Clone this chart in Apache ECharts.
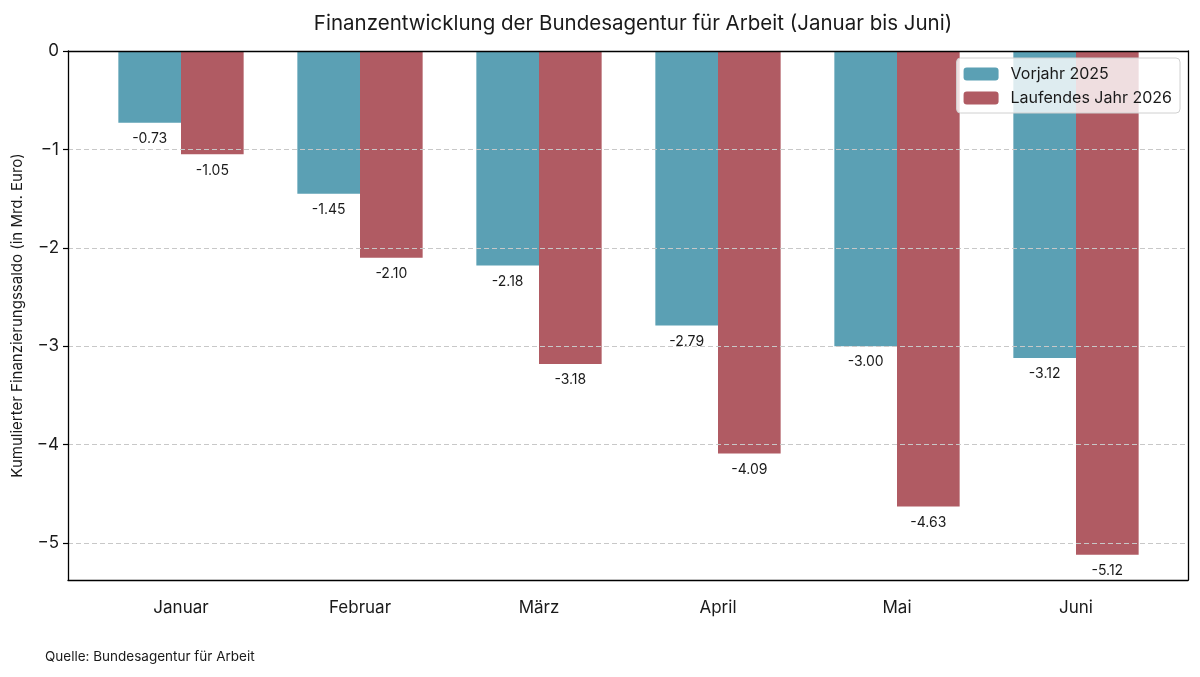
<!DOCTYPE html>
<html>
<head>
<meta charset="utf-8">
<script src="https://cdn.jsdelivr.net/npm/echarts@6/dist/echarts.min.js"></script>
<style>
  html, body { margin: 0; padding: 0; background: #fff; }
</style>
</head>
<body>
<div id="main" style="width:1200px;height:677px;"></div>
<script>
// Daten
var monate = ['Januar', 'Februar', 'März', 'April', 'Mai', 'Juni'];
var vorjahr2025 = [-0.73, -1.45, -2.18, -2.79, -3.00, -3.12];
var laufend2026 = [-1.05, -2.10, -3.18, -4.09, -4.63, -5.12];
var yMin = -5.376, yMax = 0;

var font = 'Inter';
var chart = echarts.init(document.getElementById('main'));

function minus(v) {
  return v < 0 ? '\u2212' + Math.abs(v) : String(v);
}

var frameLine = { show: true, onZero: false, lineStyle: { color: '#000', width: 1.3 } };

chart.setOption({
  textStyle: { fontFamily: font },
  title: {
    text: 'Finanzentwicklung der Bundesagentur für Arbeit (Januar bis Juni)',
    left: 628, textAlign: 'center', top: 8,
    textStyle: { fontSize: 20.5, fontWeight: 'normal', color: '#1a1a1a', fontFamily: font }
  },
  legend: {
    orient: 'vertical', right: 20, top: 58,
    itemWidth: 35, itemHeight: 13, itemGap: 8,
    padding: [8, 8, 7, 7],
    backgroundColor: 'rgba(255,255,255,0.8)',
    borderColor: '#d0d0d0', borderWidth: 1, borderRadius: 4,
    textStyle: { fontSize: 16, color: '#1a1a1a', fontFamily: font, padding: [0, 0, 0, 7] },
    data: ['Vorjahr 2025', 'Laufendes Jahr 2026']
  },
  grid: [
    { left: 68, right: 12, top: 51, bottom: 97 },
    { left: 91.5, right: 34.5, top: 51, bottom: 97 }
  ],
  xAxis: [
    { gridIndex: 0, type: 'value', position: 'bottom', min: 0, max: 1, z: 10,
      axisLine: frameLine, axisTick: { show: false }, axisLabel: { show: false }, splitLine: { show: false } },
    { gridIndex: 0, type: 'value', position: 'top', min: 0, max: 1, z: 10,
      axisLine: frameLine, axisTick: { show: false }, axisLabel: { show: false }, splitLine: { show: false } },
    { gridIndex: 1, type: 'category', data: monate, position: 'bottom',
      axisLine: { show: false },
      axisTick: { show: true, alignWithLabel: true, length: 5, lineStyle: { color: '#000', width: 1.2 } },
      axisLabel: { fontSize: 17, color: '#1a1a1a', margin: 19, fontFamily: font } }
  ],
  yAxis: [
    { gridIndex: 0, type: 'value', min: yMin, max: yMax, splitNumber: 5, z: 10,
      name: 'Kumulierter Finanzierungssaldo (in Mrd. Euro)',
      nameLocation: 'middle', nameGap: 43,
      nameTextStyle: { fontSize: 15, color: '#1a1a1a', fontFamily: font },
      axisLine: frameLine,
      axisTick: { show: true, length: 5, lineStyle: { color: '#000', width: 1.2 } },
      axisLabel: { fontSize: 17, color: '#1a1a1a', margin: 9, showMinLabel: false, formatter: minus, fontFamily: font },
      splitLine: { show: true, lineStyle: { color: '#c8c8c8', type: [5, 3], width: 1 } } },
    { gridIndex: 0, type: 'value', position: 'right', min: yMin, max: yMax, z: 10,
      axisLine: frameLine, axisTick: { show: false }, axisLabel: { show: false }, splitLine: { show: false } },
    { gridIndex: 1, type: 'value', min: yMin, max: yMax, show: false }
  ],
  series: [
    { name: 'Vorjahr 2025', type: 'bar', xAxisIndex: 2, yAxisIndex: 2,
      data: vorjahr2025, barWidth: '35%', barGap: '0%',
      itemStyle: { color: '#5ba0b4' },
      label: { show: true, position: 'bottom', distance: 9, fontSize: 14, color: '#1a1a1a', fontFamily: font,
        formatter: function (p) { return p.value.toFixed(2); } } },
    { name: 'Laufendes Jahr 2026', type: 'bar', xAxisIndex: 2, yAxisIndex: 2,
      data: laufend2026, barWidth: '35%', barGap: '0%',
      itemStyle: { color: '#b05b63' },
      label: { show: true, position: 'bottom', distance: 9, fontSize: 14, color: '#1a1a1a', fontFamily: font,
        formatter: function (p) { return p.value.toFixed(2); } } }
  ],
  graphic: [
    { type: 'text', left: 45, top: 650,
      style: { text: 'Quelle: Bundesagentur für Arbeit', fontSize: 13.5, fill: '#1a1a1a', fontFamily: font } }
  ]
});
</script>
</body>
</html>
